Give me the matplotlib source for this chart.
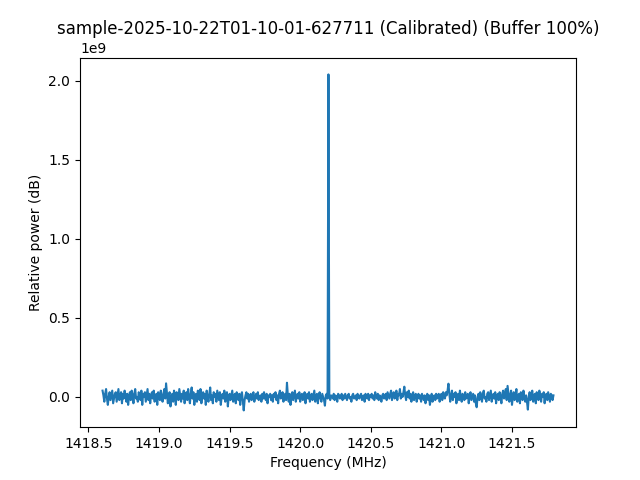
import numpy as np
import matplotlib
matplotlib.use("Agg")
import matplotlib.pyplot as plt

# sample info
title = "sample-2025-10-22T01-10-01-627711 (Calibrated) (Buffer 100%)"
center_mhz = 1420.2
bandwidth_mhz = 3.2

# power per bin (units of 1e9), 32 bins per row
power_e9 = [
    0.04, 0.01, -0.03, 0.02, 0.05, -0.01, -0.05, 0.00, 0.03, -0.02, 0.01, 0.04, -0.04, -0.01, 0.02, 0.03,
    -0.03, 0.01, 0.05, -0.02, 0.00, 0.03, -0.04, 0.02, -0.01, 0.04, 0.01, -0.03, 0.02, -0.05, 0.00, 0.03,
    -0.02, 0.04, 0.01, -0.04, 0.02, 0.05, -0.01, 0.00, -0.03, 0.03, 0.01, -0.02, 0.04, -0.05, 0.02, 0.00,
    0.03, -0.03, 0.01, 0.05, -0.02, 0.02, -0.04, 0.01, 0.03, -0.01, 0.04, -0.03, 0.00, 0.02, -0.05, 0.03,
    0.01, -0.02, 0.04, 0.00, -0.03, 0.02, 0.05, -0.01, 0.086, 0.02, -0.04, 0.01, 0.03, -0.06, 0.00, 0.02,
    -0.03, 0.04, 0.01, -0.05, 0.03, 0.00, -0.02, 0.05, 0.01, -0.03, 0.02, -0.01, 0.04, -0.04, 0.01, 0.03,
    -0.02, 0.05, 0.00, -0.04, 0.02, 0.06, -0.01, 0.03, -0.05, 0.01, 0.02, -0.03, 0.04, 0.00, -0.02, 0.05,
    -0.04, 0.01, 0.03, -0.01, 0.02, -0.05, 0.04, 0.00, -0.03, 0.02, 0.06, -0.02, 0.01, -0.04, 0.03, 0.00,
    0.02, -0.03, 0.04, 0.01, -0.02, 0.03, -0.05, 0.00, 0.02, -0.01, 0.04, -0.03, 0.01, 0.03, -0.06, 0.00,
    0.02, -0.02, 0.01, 0.04, -0.03, 0.00, 0.02, -0.04, 0.03, 0.01, -0.02, 0.02, -0.05, 0.01, 0.03, -0.03,
    -0.085, -0.02, 0.01, 0.03, -0.01, 0.02, -0.03, 0.00, 0.02, -0.02, 0.01, 0.03, -0.03, 0.00, 0.02, -0.01,
    0.03, -0.02, 0.00, 0.01, -0.03, 0.02, -0.01, 0.03, 0.00, -0.02, 0.02, -0.04, 0.01, 0.00, 0.02, -0.02,
    0.01, -0.03, 0.02, 0.00, 0.03, -0.02, 0.01, -0.04, 0.02, 0.04, -0.01, 0.00, 0.03, -0.03, 0.01, 0.02,
    -0.02, 0.09, 0.01, -0.03, 0.02, -0.05, 0.00, 0.03, -0.02, 0.01, 0.04, -0.03, 0.00, 0.02, -0.01, 0.03,
    -0.03, 0.01, 0.02, -0.02, 0.00, 0.03, -0.04, 0.01, 0.02, -0.01, 0.03, -0.03, 0.00, 0.02, -0.02, 0.01,
    0.04, -0.03, 0.00, 0.02, -0.04, 0.01, 0.03, -0.01, -0.03, 0.02, 0.00, -0.02, -0.055, 0.01, 0.02, -0.01,
    2.04, 0.01, -0.02, 0.01, 0.00, -0.01, 0.02, -0.02, 0.01, 0.00, -0.03, 0.02, 0.01, -0.01, 0.00, 0.02,
    -0.02, 0.01, -0.01, 0.02, 0.00, -0.02, 0.01, 0.02, -0.01, 0.00, -0.03, 0.01, 0.02, -0.01, 0.00, 0.01,
    -0.02, 0.02, 0.00, -0.01, 0.01, 0.02, -0.02, 0.00, 0.01, -0.03, 0.02, 0.00, -0.01, 0.02, -0.02, 0.01,
    0.00, 0.02, -0.01, 0.01, -0.02, 0.03, 0.00, -0.01, 0.02, -0.02, 0.01, 0.00, -0.03, 0.01, 0.02, -0.01,
    0.00, 0.02, -0.02, 0.03, 0.01, -0.01, 0.02, 0.04, -0.02, 0.01, 0.03, -0.01, 0.00, 0.04, -0.02, 0.02,
    0.01, 0.05, -0.01, 0.02, 0.00, 0.03, 0.065, 0.01, -0.02, 0.03, 0.00, 0.04, -0.01, 0.02, -0.03, 0.01,
    0.03, -0.02, 0.01, 0.02, -0.03, 0.00, 0.02, -0.01, 0.01, -0.03, 0.02, 0.00, -0.02, 0.01, -0.04, 0.00,
    0.02, -0.02, 0.01, -0.05, -0.01, 0.02, -0.03, 0.00, 0.01, -0.02, 0.02, -0.01, 0.00, 0.02, -0.03, 0.01,
    0.02, -0.02, 0.03, 0.00, -0.01, 0.03, 0.01, 0.04, 0.084, 0.02, -0.03, 0.01, 0.04, -0.02, 0.02, 0.00,
    0.03, -0.04, 0.01, 0.02, -0.02, 0.04, 0.00, -0.03, 0.02, 0.01, -0.02, 0.03, -0.01, 0.00, 0.02, -0.04,
    0.01, 0.03, -0.02, 0.00, 0.02, -0.03, 0.01, -0.04, -0.065, 0.00, 0.02, -0.02, 0.03, 0.01, -0.03, 0.02,
    0.04, -0.01, 0.00, -0.03, 0.02, 0.03, -0.02, 0.01, 0.04, -0.03, 0.00, 0.02, -0.01, 0.03, -0.04, 0.01,
    0.02, -0.02, 0.03, 0.00, -0.04, 0.02, 0.04, -0.01, 0.01, 0.05, -0.02, 0.07, 0.02, -0.03, 0.01, 0.04,
    -0.05, 0.00, 0.03, -0.02, 0.01, 0.05, -0.03, 0.00, 0.02, -0.04, 0.03, 0.01, -0.02, 0.04, 0.00, -0.03,
    0.01, -0.03, -0.08, 0.00, 0.03, -0.02, 0.02, 0.04, -0.03, 0.01, 0.02, -0.04, 0.03, 0.00, -0.02, 0.04,
    0.01, -0.03, 0.02, 0.00, 0.03, -0.04, 0.01, 0.02, -0.02, 0.03, 0.00, -0.03, 0.02, 0.01, -0.02, 0.01,
]

#Code starts here
power = np.array(power_e9) * 1e9
n = len(power)
freqs = center_mhz + (np.arange(n) - n / 2) * bandwidth_mhz / n

fig, ax = plt.subplots(figsize=(6.4, 4.8), dpi=100)
ax.plot(freqs, power)
ax.set_title(title)
ax.set_xlabel("Frequency (MHz)")
ax.set_ylabel("Relative power (dB)")

plt.savefig("out.png")
